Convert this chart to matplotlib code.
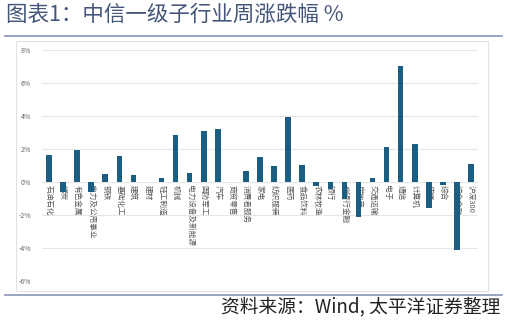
import matplotlib
matplotlib.use("Agg")
import matplotlib.pyplot as plt
from matplotlib.patches import Rectangle
from matplotlib.lines import Line2D

plt.rcParams['font.family'] = ['Noto Sans CJK SC', 'DejaVu Sans']

# 中信一级行业 + 沪深300 周涨跌幅 (%)
industries = ["石油石化", "煤炭", "有色金属", "电力及公用事业", "钢铁", "基础化工", "建筑", "建材",
              "轻工制造", "机械", "电力设备及新能源", "国防军工", "汽车", "商贸零售", "消费者服务",
              "家电", "纺织服装", "医药", "食品饮料", "农林牧渔", "银行", "非银行金融", "房地产",
              "交通运输", "电子", "通信", "计算机", "传媒", "综合", "综合金融", "沪深300"]
changes = [1.64, -0.59, 1.94, -0.59, 0.47, 1.58, 0.42, -0.03,
           0.22, 2.83, 0.53, 3.09, 3.23, -0.03, 0.67,
           1.50, 0.95, 3.92, 1.03, -0.22, -0.45, -1.00, -2.10,
           0.22, 2.14, 7.03, 2.30, -1.56, -0.18, -4.12, 1.07]
yticks = [-6, -4, -2, 0, 2, 4, 6, 8]

W, H = 507, 322
fig = plt.figure(figsize=(W / 100, H / 100), dpi=100)

# title and rules
fig.text(6 / W, 1 - 15 / H, "图表1：中信一级子行业周涨跌幅 %", fontsize=15.5,
         color="#44557a", va="center", ha="left")
fig.add_artist(Line2D([5 / W, 502 / W], [1 - 35.5 / H, 1 - 35.5 / H],
                      color="#8892b8", lw=1.2))
fig.add_artist(Line2D([5 / W, 502 / W], [1 - 295 / H, 1 - 295 / H],
                      color="#8892b8", lw=1.2))

# light frame round the chart
fig.add_artist(Rectangle((16 / W, 1 - 290.5 / H), (488 - 16) / W, (290.5 - 41) / H,
                         fill=False, edgecolor="#e2e2e2", lw=0.8))

# footer
fig.text(500 / W, 1 - 307 / H, "资料来源：Wind, 太平洋证券整理", fontsize=13.5,
         style="italic", color="#222222", ha="right", va="center")

ax = fig.add_axes([42 / W, 1 - 281 / H, (478 - 42) / W, (281 - 50) / H])
x = list(range(len(industries)))
ax.bar(x, changes, width=0.4, color="#1b5e82", zorder=3)

ax.set_ylim(-6, 8)
ax.set_xlim(-0.5, len(industries) - 0.5)
ax.set_yticks(yticks)
ax.set_yticklabels([f"{v}%" for v in yticks], fontsize=5, color="#666666")
ax.set_xticks([])
ax.tick_params(axis="y", length=0, pad=8)
ax.grid(axis="y", color="#e6e6e6", lw=0.8, zorder=0)
for s in ax.spines.values():
    s.set_visible(False)

# category labels hang just under the zero line, behind the bars
for i, name in enumerate(industries):
    ax.annotate(name, (i, 0), xytext=(0, -2), textcoords="offset points",
                rotation=270, ha="center", va="top", fontsize=5.5,
                color="#595959", zorder=2)

fig.savefig("out.png", dpi=100)
